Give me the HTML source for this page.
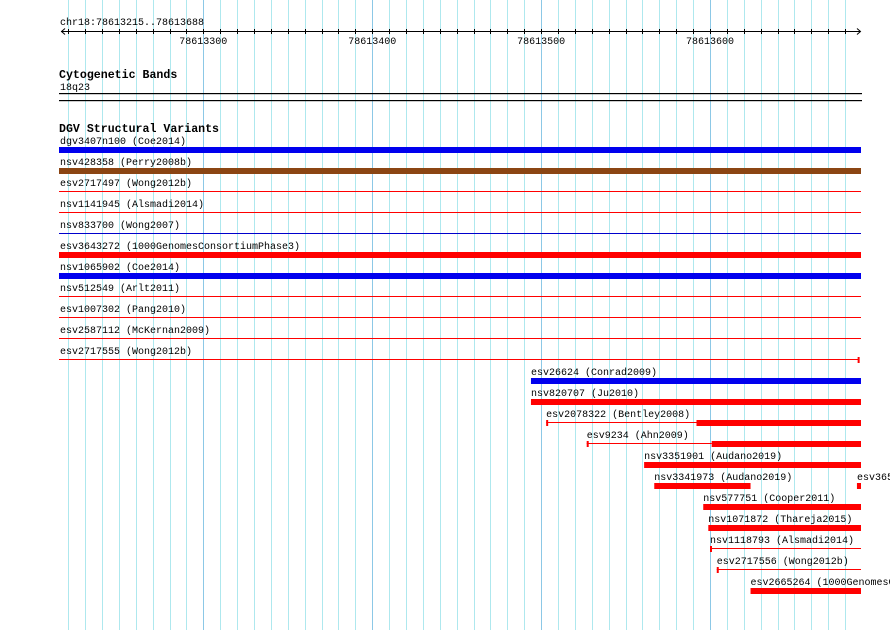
<!DOCTYPE html>
<html><head><meta charset="utf-8"><style>
html,body{margin:0;padding:0;background:#fff;}
svg{display:block;font-family:"Liberation Mono","DejaVu Sans Mono",monospace;}
</style></head><body>
<svg id="chart" width="890" height="630" viewBox="0 0 890 630" xmlns="http://www.w3.org/2000/svg">
<g id="grid"></g>
<g id="ruler"></g>
<text x="60" y="25" font-size="10">chr18:78613215..78613688</text>
<text x="59" y="78" font-size="11.6" font-weight="bold">Cytogenetic Bands</text>
<text x="60" y="90" font-size="10">18q23</text>
<rect x="59" y="93" width="803" height="1.2" fill="#000"/>
<rect x="59" y="100" width="803" height="1.2" fill="#000"/>
<text x="59" y="132" font-size="11.6" font-weight="bold">DGV Structural Variants</text>
<g id="features"></g>
</svg>
<script>
const START = 78613215, END = 78613688;
const tickLabels = [78613300, 78613400, 78613500, 78613600];
const names = ["dgv3407n100 (Coe2014)","nsv428358 (Perry2008b)","esv2717497 (Wong2012b)","nsv1141945 (Alsmadi2014)","nsv833700 (Wong2007)","esv3643272 (1000GenomesConsortiumPhase3)","nsv1065902 (Coe2014)","nsv512549 (Arlt2011)","esv1007302 (Pang2010)","esv2587112 (McKernan2009)","esv2717555 (Wong2012b)","esv26624 (Conrad2009)","nsv820707 (Ju2010)","esv2078322 (Bentley2008)","esv9234 (Ahn2009)","nsv3351901 (Audano2019)","nsv3341973 (Audano2019)","esv3650000","nsv577751 (Cooper2011)","nsv1071872 (Thareja2015)","nsv1118793 (Alsmadi2014)","esv2717556 (Wong2012b)","esv2665264 (1000GenomesConsortiumPhase3)"];
const rows = [0,1,2,3,4,5,6,7,8,9,10,11,12,13,14,15,16,16,17,18,19,20,21];
const starts = [78613200,78613200,78613200,78613200,78613200,78613200,78613200,78613200,78613200,78613200,78613200,78613494,78613494,78613503,78613527,78613561,78613567,78613687,78613596,78613599,78613600,78613604,78613624];
const ends = [78613700,78613700,78613700,78613700,78613700,78613700,78613700,78613700,78613700,78613700,78613688,78613700,78613700,78613700,78613700,78613700,78613624,78613700,78613700,78613700,78613700,78613700,78613700];
const thickStarts = [78613200,78613200,null,null,null,78613200,78613200,null,null,null,null,78613494,78613494,78613592,78613601,78613561,78613567,78613687,78613596,78613599,null,null,78613624];
const colors = ["#0000ee","#8b4513","#ff0000","#ff0000","#0000cc","#ff0000","#0000ee","#ff0000","#ff0000","#ff0000","#ff0000","#0000ee","#ff0000","#ff0000","#ff0000","#ff0000","#ff0000","#ff0000","#ff0000","#ff0000","#ff0000","#ff0000","#ff0000"];
const startMarker = [false,false,false,false,false,false,false,false,false,false,false,false,false,true,true,false,false,false,false,false,true,true,false];
const endMarker = [false,false,false,false,false,false,false,false,false,false,true,false,false,false,false,false,false,false,false,false,false,false,false];

const NS = "http://www.w3.org/2000/svg";
const PX = 1.689, REF = 78613300, REFX = 203.3;
const xS = bp => REFX + (bp - REF) * PX;
const clampX = x => Math.max(59, Math.min(861, x));
function mk(tag, attrs, parent){const e=document.createElementNS(NS,tag);for(const k in attrs)e.setAttribute(k,attrs[k]);parent.appendChild(e);return e;}

const grid = document.getElementById('grid');
for (let bp = Math.ceil(START/10)*10; bp <= END; bp += 10) {
  const x = Math.round(xS(bp)) + 0.5;
  const major = bp % 100 === 0;
  const l = mk('line', {x1:x, x2:x, y1:0, y2:630, stroke: major ? '#8cc8e6' : '#aee8ee', 'stroke-width':1}, grid);
  
  
}
const ruler = document.getElementById('ruler');
const axis = mk('line', {x1:61, x2:860, y1:31.5, y2:31.5, stroke:'#000', 'stroke-width':1}, ruler);


const la = mk('path', {d:'M65 28.5 L61.5 31.5 L65 34.5', fill:'none', stroke:'#000'}, ruler);


const ra = mk('path', {d:'M857 28.5 L860.5 31.5 L857 34.5', fill:'none', stroke:'#000'}, ruler);


for (let bp = Math.ceil(START/10)*10; bp <= END; bp += 10) {
  const x = Math.round(xS(bp)) + 0.5;
  const t = mk('line', {x1:x, x2:x, y1:29, y2:34, stroke:'#000'}, ruler);
  
  
}
tickLabels.forEach(v => {
  const t = mk('text', {x: xS(v), y: 44, 'font-size': 10, 'text-anchor': 'middle'}, ruler);
  
  
  t.textContent = v;
});

const feats = document.getElementById('features');
names.forEach((n, i) => {
  const g = mk('g', {}, feats);
  
  
  const r = rows[i], c = colors[i];
  const yLine = 149 + 21 * r;
  const x0 = clampX(xS(starts[i])), x1 = clampX(xS(ends[i]));
  const lab = mk('text', {x: Math.max(60, x0), y: 144 + 21 * r, 'font-size': 10}, g);
  
  
  lab.textContent = n;
  const thinEnd = thickStarts[i] === null ? x1 : clampX(xS(thickStarts[i]));
  if (thinEnd > x0) {
    const ln = mk('rect', {x: x0, y: yLine, width: thinEnd - x0, height: 1, fill: c}, g);
    
    
  }
  if (thickStarts[i] !== null && x1 > thinEnd) {
    const b = mk('rect', {x: thinEnd, y: yLine - 2, width: x1 - thinEnd, height: 6, fill: c}, g);
    
    
  }
  if (startMarker[i]) {
    const m = mk('rect', {x: x0, y: yLine - 2, width: 2, height: 6, fill: c}, g);
    
    
  }
  if (endMarker[i]) {
    const m = mk('rect', {x: x1 - 1, y: yLine - 2, width: 2, height: 6, fill: c}, g);
    
    
  }
});
</script>
</body></html>
